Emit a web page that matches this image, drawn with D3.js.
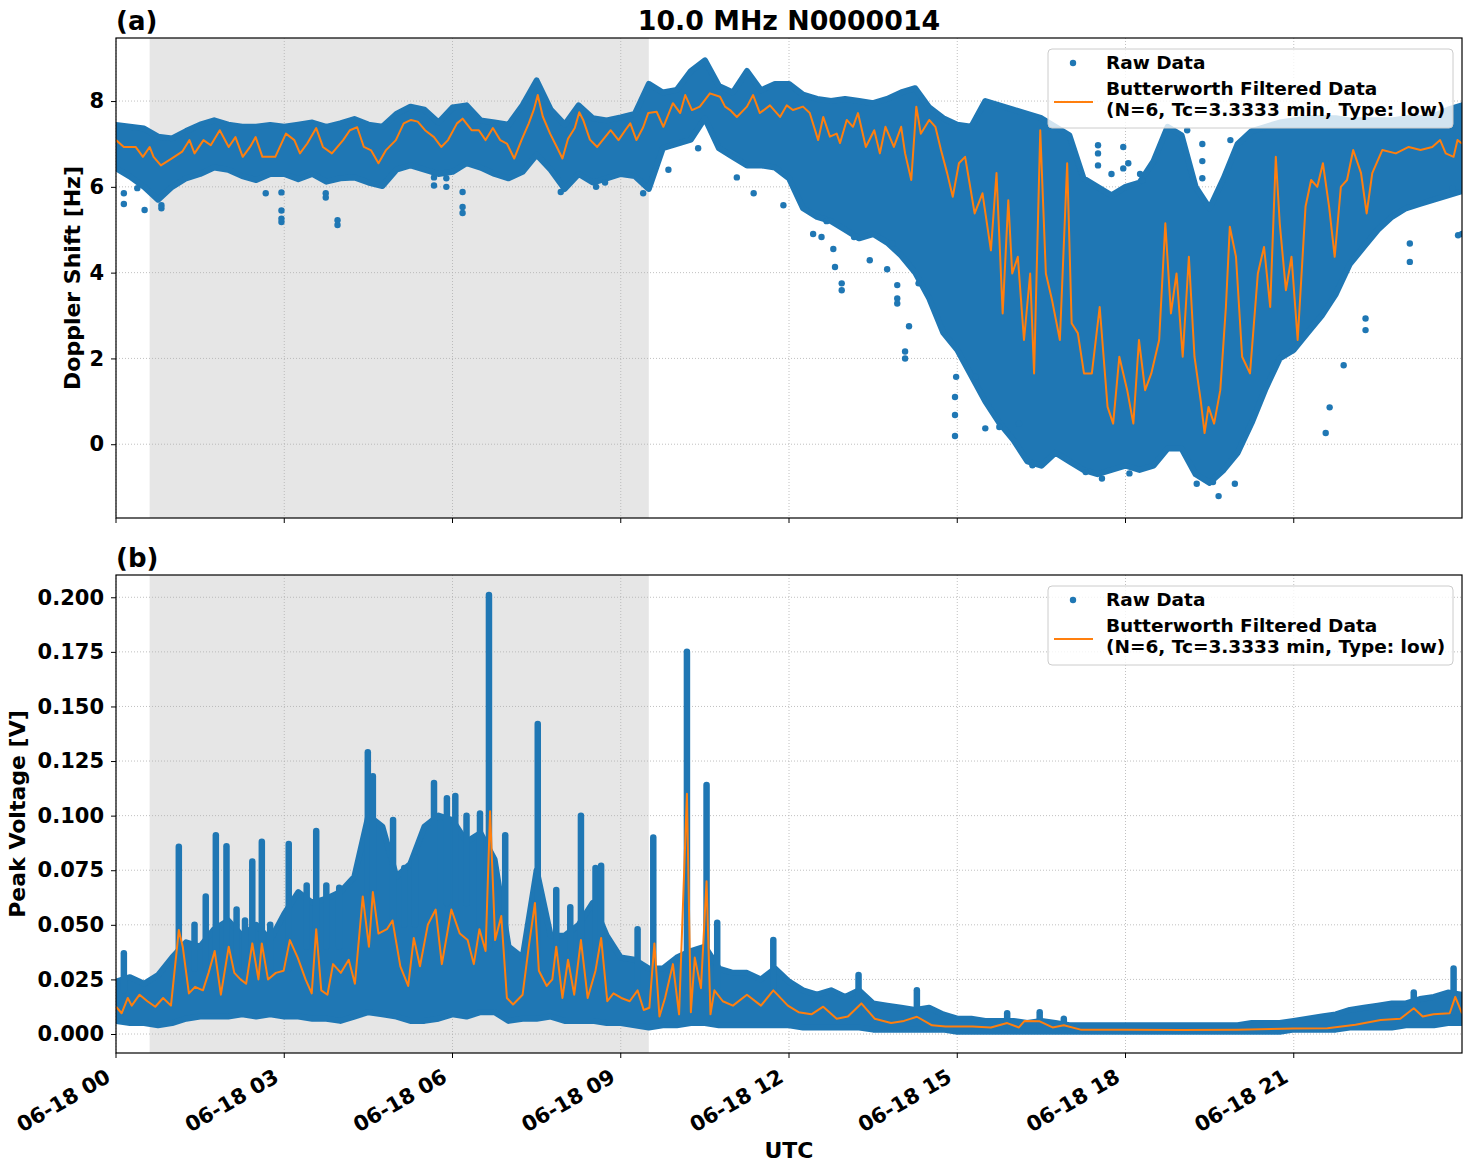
<!DOCTYPE html>
<html>
<head>
<meta charset="utf-8">
<script src="https://cdn.jsdelivr.net/npm/d3@7"></script>
<style>
  body { margin: 0; background: #fff; }
  svg { display: block; font-family: "DejaVu Sans", sans-serif; font-weight: bold; }
</style>
</head>
<body>
<div id="chart"></div>
<script>
// ---- data (hours since 06-18 00 UTC) ----
var xTickHours = [0, 3, 6, 9, 12, 15, 18, 21];
var xTickLabels = ["06-18 00", "06-18 03", "06-18 06", "06-18 09", "06-18 12", "06-18 15", "06-18 18", "06-18 21"];
var dopplerTicks = [0, 2, 4, 6, 8];
var voltTicks = [0, 0.025, 0.05, 0.075, 0.1, 0.125, 0.15, 0.175, 0.2];
var nightSpan = [0.6, 9.5];

// raw doppler data, dense band per quarter hour: [hour, low, high]
var dopplerBand = [
  [0.00,6.43,7.44],[0.25,6.24,7.40],[0.50,6.00,7.36],[0.75,5.70,7.17],[1.00,6.00,7.13],
  [1.25,6.20,7.30],[1.50,6.30,7.45],[1.75,6.45,7.55],[2.00,6.40,7.45],[2.25,6.25,7.40],
  [2.50,6.16,7.40],[2.75,6.30,7.44],[3.00,6.30,7.40],[3.25,6.18,7.45],[3.50,6.30,7.50],
  [3.75,6.12,7.40],[4.00,6.20,7.48],[4.25,6.22,7.58],[4.50,6.10,7.45],[4.75,6.02,7.40],
  [5.00,6.40,7.70],[5.25,6.50,7.87],[5.50,6.40,7.80],[5.75,6.30,7.50],[6.00,6.35,7.85],
  [6.25,6.55,7.90],[6.50,6.45,7.55],[6.75,6.30,7.50],[7.00,6.20,7.45],[7.25,6.35,7.90],
  [7.50,6.75,8.48],[7.75,6.40,7.80],[8.00,5.95,7.45],[8.25,6.30,7.90],[8.50,6.10,7.60],
  [8.75,6.20,7.55],[9.00,6.30,7.62],[9.25,6.25,7.70],[9.50,5.95,8.40],[9.75,6.90,8.20],
  [10.00,7.00,8.26],[10.25,7.10,8.70],[10.50,7.60,8.95],[10.75,6.90,8.35],[11.00,6.70,8.20],
  [11.25,6.50,8.70],[11.50,6.50,8.25],[11.75,6.45,8.40],[12.00,6.20,8.40],[12.25,5.50,8.15],
  [12.50,5.30,8.05],[12.75,5.20,8.00],[13.00,5.00,8.05],[13.25,4.80,8.00],[13.50,4.90,7.95],
  [13.75,4.70,8.05],[14.00,4.40,8.20],[14.25,4.00,8.30],[14.50,3.40,7.85],[14.75,2.60,7.60],
  [15.00,2.20,7.45],[15.25,1.60,7.40],[15.50,1.00,8.00],[15.75,0.50,7.90],[16.00,0.10,7.80],
  [16.25,-0.40,7.70],[16.50,-0.50,7.60],[16.75,-0.20,7.40],[17.00,-0.40,7.20],[17.25,-0.60,6.20],
  [17.50,-0.70,6.00],[17.75,-0.60,5.80],[18.00,-0.50,6.00],[18.25,-0.60,6.10],[18.50,-0.50,6.60],
  [18.75,-0.10,7.40],[19.00,-0.10,7.20],[19.25,-0.70,6.00],[19.50,-0.90,5.50],[19.75,-0.60,6.20],
  [20.00,-0.20,7.00],[20.25,0.50,7.30],[20.50,1.30,7.40],[20.75,2.00,7.50],[21.00,2.20,7.55],
  [21.25,2.60,7.60],[21.50,3.00,7.60],[21.75,3.50,7.60],[22.00,4.20,7.55],[22.25,4.60,7.55],
  [22.50,5.00,7.55],[22.75,5.30,7.55],[23.00,5.50,7.60],[23.25,5.60,7.60],[23.50,5.70,7.65],
  [23.75,5.80,7.80],[24.00,5.90,7.90]
];

// isolated raw doppler points: [hour, Hz]
var dopplerOutliers = [
  [0.14,5.85],[0.14,5.60],[0.38,5.97],[0.51,5.46],[0.81,5.50],[0.81,5.57],[2.67,5.85],[2.95,5.87],
  [2.95,5.45],[2.95,5.26],[2.95,5.18],[3.74,5.85],[3.74,5.75],[3.95,5.22],[3.95,5.11],[5.67,6.22],
  [5.67,6.03],[5.89,6.20],[5.89,6.00],[6.18,5.88],[6.18,5.53],[6.18,5.39],[7.93,5.88],[8.56,6.00],
  [8.72,6.10],[9.40,5.85],[9.85,6.40],[10.38,6.90],[11.07,6.22],[11.37,5.85],[11.90,5.57],[12.43,4.90],
  [12.58,4.83],[12.67,5.20],[12.79,4.55],[12.82,4.13],[12.94,3.75],[12.94,3.59],[13.16,4.83],[13.44,4.29],
  [13.75,4.08],[13.84,4.68],[13.93,3.71],[13.93,3.40],[13.93,3.28],[14.07,2.16],[14.07,2.00],[14.14,2.75],
  [14.31,3.75],[14.96,1.10],[14.96,0.68],[14.96,0.19],[14.98,1.57],[15.33,1.57],[15.50,0.37],[15.75,0.40],
  [16.10,0.48],[16.34,-0.49],[17.29,-0.65],[17.58,-0.80],[18.07,-0.68],[19.27,-0.92],[19.56,-0.88],
  [19.66,-1.21],[19.95,-0.92],[21.57,0.26],[21.64,0.86],[21.89,1.84],[22.28,2.66],[22.28,2.93],
  [23.07,4.25],[23.07,4.68],[23.83,5.97],[23.93,4.87],[24.00,4.90],
  [17.51,6.97],[17.51,6.78],[17.51,6.50],[17.96,6.93],[17.96,6.43],[18.26,6.30],[18.30,6.15],
  [19.10,7.32],[19.37,7.00],[19.37,6.60],[19.37,6.20],[19.87,7.09],[17.75,6.30],[18.05,6.55]
];

// Butterworth filtered doppler: [hour, Hz]
var dopplerFiltered = [
  [0.00,7.09],[0.14,6.93],[0.35,6.93],[0.48,6.70],[0.60,6.93],[0.67,6.70],[0.80,6.50],[0.99,6.66],
  [1.18,6.82],[1.31,7.09],[1.40,6.78],[1.56,7.09],[1.69,6.97],[1.85,7.32],[2.01,6.93],[2.13,7.16],
  [2.26,6.70],[2.39,6.93],[2.49,7.16],[2.61,6.70],[2.84,6.70],[3.03,7.24],[3.18,7.09],[3.28,6.78],
  [3.41,7.01],[3.57,7.37],[3.69,6.93],[3.85,6.78],[4.05,7.09],[4.17,7.32],[4.30,7.39],[4.42,6.93],
  [4.55,6.85],[4.68,6.55],[4.81,6.85],[4.99,7.09],[5.13,7.48],[5.26,7.56],[5.38,7.52],[5.51,7.32],
  [5.67,7.16],[5.80,6.93],[5.92,7.09],[6.08,7.48],[6.18,7.59],[6.34,7.32],[6.47,7.32],[6.59,7.09],
  [6.72,7.37],[6.85,7.09],[6.97,7.01],[7.10,6.66],[7.23,7.09],[7.36,7.48],[7.45,7.80],[7.52,8.14],
  [7.61,7.64],[7.74,7.24],[7.86,6.93],[7.96,6.66],[8.06,7.12],[8.18,7.37],[8.26,7.74],[8.33,7.56],
  [8.45,7.10],[8.58,6.93],[8.72,7.16],[8.82,7.32],[8.96,7.09],[9.08,7.32],[9.17,7.48],[9.28,7.09],
  [9.40,7.39],[9.49,7.72],[9.64,7.75],[9.76,7.40],[9.93,7.95],[10.06,7.72],[10.15,8.14],[10.27,7.79],
  [10.41,7.87],[10.59,8.18],[10.77,8.10],[10.86,7.87],[10.95,7.79],[11.07,7.63],[11.25,7.87],[11.36,8.14],
  [11.48,7.72],[11.66,7.90],[11.84,7.63],[11.96,7.90],[12.07,7.79],[12.25,7.87],[12.37,7.72],[12.52,7.09],
  [12.61,7.63],[12.73,7.17],[12.85,7.24],[12.91,7.02],[13.03,7.56],[13.14,7.40],[13.23,7.72],[13.37,6.93],
  [13.52,7.32],[13.62,6.78],[13.72,7.40],[13.87,6.93],[14.00,7.40],[14.07,6.78],[14.18,6.16],[14.27,7.87],
  [14.35,7.24],[14.50,7.56],[14.61,7.40],[14.71,6.86],[14.82,6.32],[14.92,5.77],[15.03,6.55],[15.14,6.70],
  [15.21,6.16],[15.31,5.38],[15.45,5.85],[15.60,4.52],[15.70,6.32],[15.81,3.05],[15.91,5.69],[15.98,3.98],
  [16.08,4.37],[16.19,2.43],[16.30,3.98],[16.37,1.65],[16.48,7.32],[16.58,3.98],[16.69,3.36],[16.83,2.43],
  [16.96,6.55],[17.04,2.82],[17.15,2.59],[17.26,1.65],[17.40,1.65],[17.54,3.20],[17.68,0.87],[17.78,0.48],
  [17.89,2.04],[18.03,1.26],[18.14,0.48],[18.24,2.43],[18.35,1.26],[18.46,1.65],[18.60,2.43],[18.71,5.15],
  [18.81,3.05],[18.91,3.98],[19.02,2.04],[19.13,4.37],[19.23,2.04],[19.34,1.03],[19.41,0.26],[19.48,0.87],
  [19.58,0.48],[19.69,1.26],[19.79,3.20],[19.86,5.07],[19.97,4.37],[20.08,2.04],[20.22,1.65],[20.36,3.98],
  [20.47,4.60],[20.58,3.20],[20.68,6.70],[20.75,5.15],[20.86,3.59],[20.96,4.37],[21.07,2.43],[21.21,5.54],
  [21.31,6.16],[21.42,6.00],[21.52,6.55],[21.63,5.54],[21.73,4.37],[21.84,6.00],[21.95,6.16],[22.06,6.86],
  [22.20,6.32],[22.30,5.38],[22.40,6.32],[22.58,6.86],[22.82,6.78],[23.05,6.93],[23.26,6.86],[23.47,6.93],
  [23.61,7.09],[23.71,6.78],[23.85,6.70],[23.92,7.09],[24.00,7.01]
];

// raw peak voltage, dense band per quarter hour: [hour, low, high]
var voltBand = [
  [0.00,0.006,0.024],[0.25,0.005,0.026],[0.50,0.005,0.023],[0.75,0.004,0.027],[1.00,0.005,0.035],
  [1.25,0.007,0.042],[1.50,0.008,0.040],[1.75,0.008,0.048],[2.00,0.008,0.052],[2.25,0.009,0.045],
  [2.50,0.008,0.050],[2.75,0.009,0.043],[3.00,0.008,0.055],[3.25,0.008,0.065],[3.50,0.007,0.060],
  [3.75,0.007,0.062],[4.00,0.006,0.065],[4.25,0.008,0.072],[4.50,0.010,0.100],[4.75,0.009,0.095],
  [5.00,0.008,0.072],[5.25,0.006,0.078],[5.50,0.006,0.095],[5.75,0.007,0.100],[6.00,0.009,0.098],
  [6.25,0.008,0.088],[6.50,0.010,0.092],[6.75,0.010,0.080],[7.00,0.006,0.040],[7.25,0.007,0.035],
  [7.50,0.007,0.075],[7.75,0.008,0.045],[8.00,0.006,0.045],[8.25,0.006,0.050],[8.50,0.006,0.060],
  [8.75,0.005,0.045],[9.00,0.005,0.035],[9.25,0.004,0.034],[9.50,0.003,0.030],[9.75,0.004,0.030],
  [10.00,0.004,0.035],[10.25,0.005,0.038],[10.50,0.005,0.040],[10.75,0.004,0.030],[11.00,0.004,0.028],
  [11.25,0.004,0.028],[11.50,0.004,0.025],[11.75,0.004,0.030],[12.00,0.004,0.024],[12.25,0.003,0.020],
  [12.50,0.003,0.018],[12.75,0.003,0.020],[13.00,0.003,0.017],[13.25,0.003,0.020],[13.50,0.002,0.014],
  [13.75,0.002,0.013],[14.00,0.002,0.012],[14.25,0.002,0.011],[14.50,0.002,0.012],[14.75,0.002,0.009],
  [15.00,0.001,0.007],[15.25,0.001,0.007],[15.50,0.001,0.006],[15.75,0.001,0.006],[16.00,0.001,0.006],
  [16.25,0.001,0.005],[16.50,0.001,0.006],[16.75,0.001,0.005],[17.00,0.001,0.004],[17.25,0.001,0.004],
  [17.50,0.001,0.004],[17.75,0.001,0.004],[18.00,0.001,0.004],[18.25,0.001,0.004],[18.50,0.001,0.004],
  [18.75,0.001,0.004],[19.00,0.001,0.004],[19.25,0.001,0.004],[19.50,0.001,0.004],[19.75,0.001,0.004],
  [20.00,0.001,0.004],[20.25,0.001,0.005],[20.50,0.001,0.005],[20.75,0.001,0.005],[21.00,0.002,0.006],
  [21.25,0.002,0.007],[21.50,0.002,0.008],[21.75,0.002,0.009],[22.00,0.003,0.011],[22.25,0.003,0.012],
  [22.50,0.003,0.013],[22.75,0.003,0.014],[23.00,0.004,0.014],[23.25,0.004,0.016],[23.50,0.004,0.017],
  [23.75,0.005,0.019],[24.00,0.005,0.018]
];

// narrow bursts of raw voltage points: [hour, base V, top V]
var voltSpikes = [
  [0.14,0.020,0.037],[1.12,0.025,0.0857],[1.40,0.030,0.050],[1.60,0.030,0.063],[1.78,0.030,0.091],
  [1.97,0.030,0.086],[2.15,0.030,0.057],[2.30,0.030,0.052],[2.43,0.030,0.079],[2.60,0.030,0.088],
  [2.75,0.030,0.050],[3.08,0.030,0.087],[3.40,0.040,0.068],[3.57,0.030,0.093],[3.75,0.040,0.068],
  [3.98,0.040,0.067],[4.49,0.050,0.129],[4.58,0.050,0.118],[4.94,0.050,0.098],[5.14,0.050,0.076],
  [5.33,0.050,0.081],[5.67,0.050,0.115],[5.90,0.060,0.108],[6.05,0.050,0.109],[6.25,0.060,0.100],
  [6.49,0.050,0.101],[6.65,0.040,0.201],[6.94,0.030,0.091],[7.52,0.030,0.142],[7.85,0.030,0.066],
  [8.10,0.030,0.058],[8.29,0.030,0.100],[8.55,0.030,0.076],[8.65,0.030,0.077],[9.30,0.020,0.048],
  [9.58,0.010,0.090],[10.18,0.020,0.175],[10.53,0.020,0.114],[10.72,0.020,0.051],[11.72,0.020,0.043],
  [13.24,0.010,0.027],[14.28,0.010,0.020],[15.89,0.004,0.0095],[16.47,0.004,0.010],[16.90,0.004,0.007],
  [23.14,0.010,0.019],[23.85,0.010,0.030]
];

// Butterworth filtered voltage: [hour, V]
var voltFiltered = [
  [0.00,0.0125],[0.10,0.0095],[0.21,0.0165],[0.28,0.013],[0.42,0.018],[0.56,0.015],[0.70,0.0125],[0.84,0.0165],
  [0.98,0.013],[1.12,0.0476],[1.19,0.040],[1.30,0.0186],[1.41,0.0216],[1.55,0.020],[1.65,0.028],[1.76,0.038],
  [1.87,0.018],[2.01,0.040],[2.11,0.028],[2.22,0.025],[2.32,0.023],[2.43,0.0415],[2.54,0.025],[2.60,0.0415],
  [2.71,0.025],[2.85,0.028],[2.99,0.029],[3.10,0.043],[3.24,0.035],[3.38,0.025],[3.49,0.0186],[3.57,0.048],
  [3.66,0.020],[3.77,0.018],[3.87,0.032],[4.01,0.028],[4.15,0.034],[4.26,0.023],[4.40,0.063],[4.51,0.040],
  [4.58,0.065],[4.68,0.046],[4.83,0.048],[4.93,0.052],[5.07,0.031],[5.21,0.022],[5.31,0.044],[5.42,0.031],
  [5.56,0.050],[5.70,0.057],[5.81,0.032],[5.98,0.057],[6.13,0.046],[6.27,0.043],[6.38,0.032],[6.48,0.048],
  [6.59,0.038],[6.67,0.102],[6.76,0.043],[6.87,0.054],[6.97,0.0165],[7.08,0.0135],[7.25,0.018],[7.36,0.040],
  [7.47,0.060],[7.54,0.029],[7.68,0.022],[7.78,0.025],[7.85,0.040],[7.96,0.0165],[8.06,0.034],[8.17,0.018],
  [8.29,0.043],[8.41,0.0165],[8.55,0.029],[8.65,0.044],[8.76,0.015],[8.87,0.0186],[9.01,0.0165],[9.16,0.015],
  [9.30,0.020],[9.41,0.011],[9.51,0.012],[9.60,0.0415],[9.69,0.008],[9.79,0.0165],[9.93,0.032],[10.04,0.009],
  [10.18,0.110],[10.25,0.010],[10.32,0.035],[10.43,0.021],[10.53,0.070],[10.60,0.009],[10.67,0.020],[10.82,0.015],
  [11.00,0.013],[11.25,0.018],[11.50,0.013],[11.72,0.020],[11.98,0.013],[12.17,0.010],[12.40,0.009],[12.61,0.0125],
  [12.85,0.007],[13.05,0.008],[13.29,0.014],[13.53,0.007],[13.82,0.005],[14.05,0.006],[14.28,0.0079],[14.55,0.004],
  [14.79,0.0034],[15.27,0.0034],[15.60,0.003],[15.89,0.005],[16.10,0.003],[16.20,0.006],[16.47,0.0058],[16.70,0.003],
  [16.90,0.004],[17.20,0.002],[18.00,0.002],[19.00,0.0018],[20.00,0.002],[21.00,0.0025],[21.60,0.0026],[22.10,0.0042],
  [22.55,0.0064],[22.90,0.007],[23.14,0.0118],[23.30,0.008],[23.49,0.009],[23.78,0.0095],[23.88,0.017],[24.00,0.0095]
];

// ---- drawing ----
var blue = "#1f77b4", orange = "#ff7f0e";
var plotLeft = 116, plotRight = 1462;

var svg = d3.select("#chart")
  .append("svg")
    .attr("width", 1472)
    .attr("height", 1172);

var x = d3.scaleLinear()
    .domain([0, 24])
    .range([plotLeft, plotRight]);

function drawPanel(p) {
  var y = d3.scaleLinear()
      .domain(p.domain)
      .range([p.bottom, p.top]);
  var g = svg.append("g");

  svg.append("clipPath").attr("id", "clip-" + p.name)
    .append("rect")
      .attr("x", plotLeft).attr("y", p.top)
      .attr("width", plotRight - plotLeft).attr("height", p.bottom - p.top);

  // shaded span
  g.append("rect")
      .attr("x", x(nightSpan[0]))
      .attr("width", x(nightSpan[1]) - x(nightSpan[0]))
      .attr("y", p.top)
      .attr("height", p.bottom - p.top)
      .attr("fill", "#e6e6e6");

  // grid
  g.selectAll(".vg").data(xTickHours).enter().append("line")
      .attr("x1", function (d) { return x(d); }).attr("x2", function (d) { return x(d); })
      .attr("y1", p.top).attr("y2", p.bottom)
      .attr("stroke", "#b0b0b0").attr("stroke-width", 0.8).attr("stroke-dasharray", "1,2");
  g.selectAll(".hg").data(p.ticks).enter().append("line")
      .attr("x1", plotLeft).attr("x2", plotRight)
      .attr("y1", function (d) { return y(d); }).attr("y2", function (d) { return y(d); })
      .attr("stroke", "#b0b0b0").attr("stroke-width", 0.8).attr("stroke-dasharray", "1,2");

  var data = g.append("g").attr("clip-path", "url(#clip-" + p.name + ")");

  data.append("path")
      .datum(p.band)
      .attr("d", d3.area()
        .x(function (d) { return x(d[0]); })
        .y0(function (d) { return y(d[1]); })
        .y1(function (d) { return y(d[2]); }))
      .attr("fill", blue)
      .attr("stroke", blue)
      .attr("stroke-width", 6)
      .attr("stroke-linejoin", "round");

  data.selectAll(".spike").data(p.spikes).enter().append("line")
      .attr("x1", function (d) { return x(d[0]); }).attr("x2", function (d) { return x(d[0]); })
      .attr("y1", function (d) { return y(d[1]); }).attr("y2", function (d) { return y(d[2]); })
      .attr("stroke", blue).attr("stroke-width", 6.5).attr("stroke-linecap", "round");

  data.selectAll(".dot").data(p.outliers).enter().append("circle")
      .attr("cx", function (d) { return x(d[0]); })
      .attr("cy", function (d) { return y(d[1]); })
      .attr("r", 3.2)
      .attr("fill", blue);

  data.append("path")
      .datum(p.filtered)
      .attr("d", d3.line()
        .x(function (d) { return x(d[0]); })
        .y(function (d) { return y(d[1]); }))
      .attr("fill", "none")
      .attr("stroke", orange)
      .attr("stroke-width", 2)
      .attr("stroke-linejoin", "round");

  // y axis
  var yAxis = g.append("g")
      .attr("transform", "translate(" + plotLeft + ",0)")
      .call(d3.axisLeft(y).tickValues(p.ticks).tickFormat(p.format).tickSize(5).tickPadding(7));
  yAxis.select(".domain").remove();
  yAxis.selectAll("line").attr("stroke", "#000").attr("stroke-width", 1);
  yAxis.selectAll("text")
      .attr("font-family", "DejaVu Sans").attr("font-weight", "bold")
      .attr("font-size", 21).attr("fill", "#000");

  // x tick marks
  g.selectAll(".xt").data(xTickHours).enter().append("line")
      .attr("x1", function (d) { return x(d); }).attr("x2", function (d) { return x(d); })
      .attr("y1", p.bottom).attr("y2", p.bottom + 5)
      .attr("stroke", "#000").attr("stroke-width", 1);

  // spines
  g.append("rect")
      .attr("x", plotLeft).attr("y", p.top)
      .attr("width", plotRight - plotLeft).attr("height", p.bottom - p.top)
      .attr("fill", "none").attr("stroke", "#000").attr("stroke-width", 1.2);

  // panel label
  g.append("text")
      .attr("x", plotLeft).attr("y", p.top - 8)
      .attr("font-size", 26)
      .text(p.label);

  // y label
  g.append("text")
      .attr("transform", "translate(" + p.ylabelX + "," + (p.top + p.bottom) / 2 + ") rotate(-90)")
      .attr("text-anchor", "middle")
      .attr("font-size", 22)
      .text(p.ylabel);

  // legend
  var lg = g.append("g").attr("transform", "translate(1048," + (p.top + 11) + ")");
  lg.append("rect")
      .attr("width", 405).attr("height", 79).attr("rx", 4)
      .attr("fill", "#fff").attr("fill-opacity", 0.8)
      .attr("stroke", "#cccccc").attr("stroke-width", 1);
  lg.append("circle").attr("cx", 25).attr("cy", 14).attr("r", 3.2).attr("fill", blue);
  lg.append("text").attr("x", 58).attr("y", 20).attr("font-size", 18.5).text("Raw Data");
  lg.append("line").attr("x1", 6).attr("x2", 45).attr("y1", 53).attr("y2", 53)
      .attr("stroke", orange).attr("stroke-width", 2);
  lg.append("text").attr("x", 58).attr("y", 46).attr("font-size", 18.5).text("Butterworth Filtered Data");
  lg.append("text").attr("x", 58).attr("y", 67).attr("font-size", 18.5).text("(N=6, Tc=3.3333 min, Type: low)");

  return y;
}

drawPanel({
  name: "a", label: "(a)", top: 38, bottom: 518, domain: [-1.72, 9.47],
  ticks: dopplerTicks, format: d3.format("d"),
  band: dopplerBand, spikes: [], outliers: dopplerOutliers, filtered: dopplerFiltered,
  ylabel: "Doppler Shift [Hz]", ylabelX: 80
});

drawPanel({
  name: "b", label: "(b)", top: 575, bottom: 1053, domain: [-0.0087, 0.2102],
  ticks: voltTicks, format: d3.format(".3f"),
  band: voltBand, spikes: voltSpikes, outliers: [], filtered: voltFiltered,
  ylabel: "Peak Voltage [V]", ylabelX: 25
});

// title
svg.append("text")
    .attr("x", (plotLeft + plotRight) / 2).attr("y", 30)
    .attr("text-anchor", "middle")
    .attr("font-size", 26.8)
    .text("10.0 MHz N0000014");

// x tick labels (bottom panel only)
svg.selectAll(".xlab").data(xTickHours).enter().append("text")
    .attr("transform", function (d) { return "translate(" + (x(d) - 4) + ",1081) rotate(-30)"; })
    .attr("text-anchor", "end")
    .attr("font-size", 21)
    .text(function (d, i) { return xTickLabels[i]; });

svg.append("text")
    .attr("x", (plotLeft + plotRight) / 2).attr("y", 1158)
    .attr("text-anchor", "middle")
    .attr("font-size", 22)
    .text("UTC");
</script>
</body>
</html>
